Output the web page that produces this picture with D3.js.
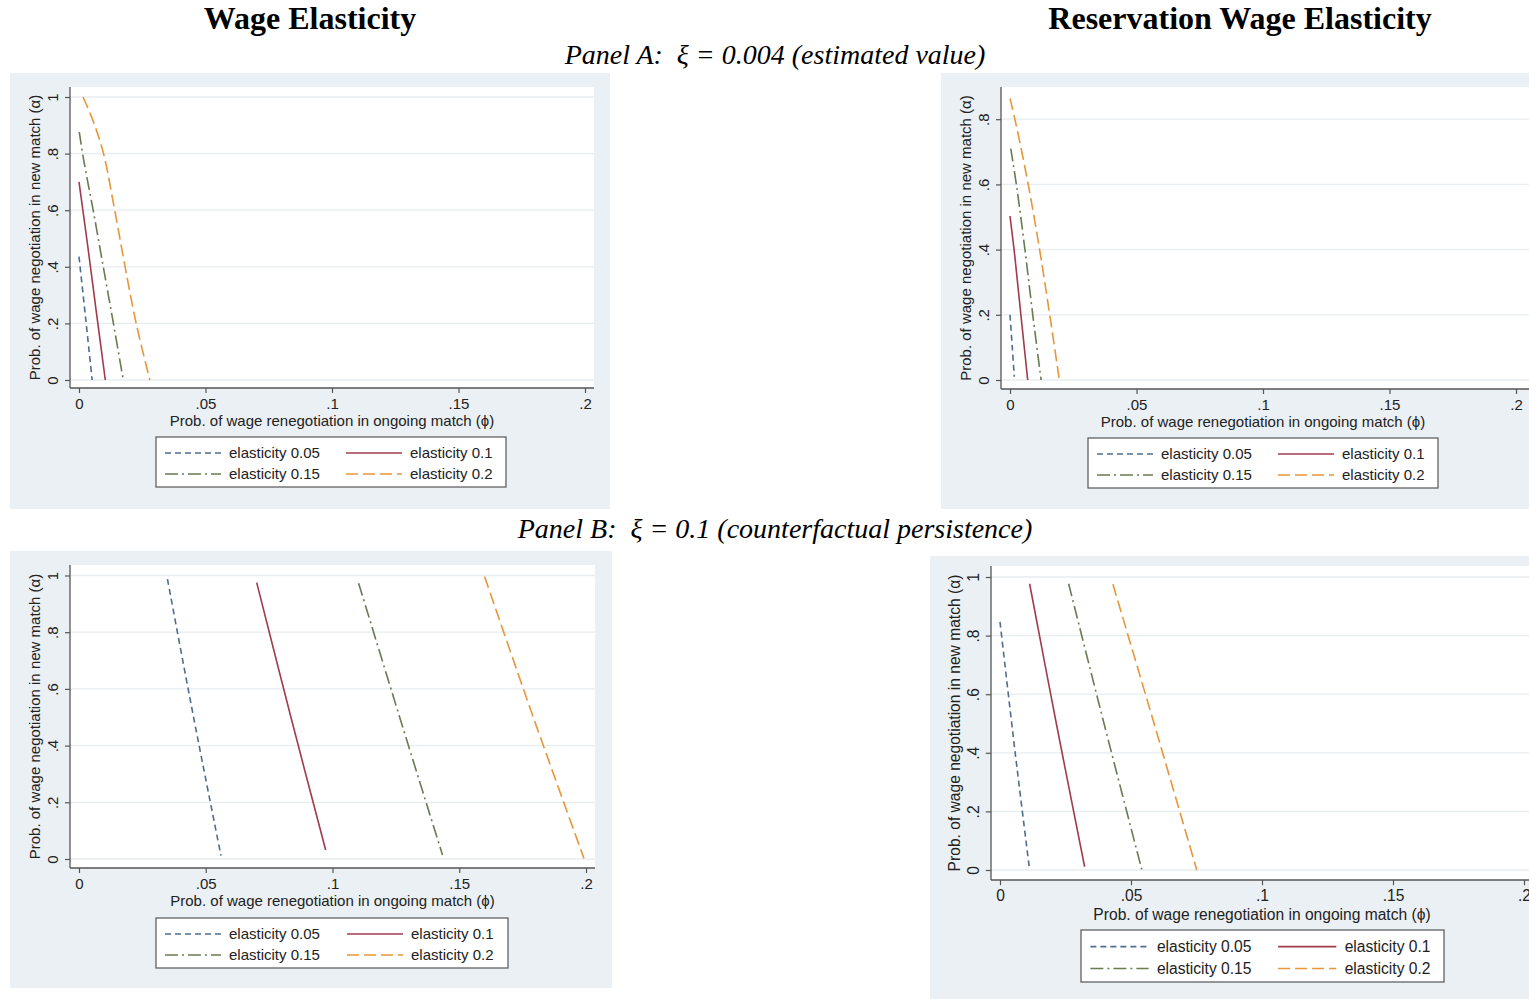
<!DOCTYPE html>
<html>
<head>
<meta charset="utf-8">
<script src="https://cdn.jsdelivr.net/npm/d3@7"></script>
<style>
  body { margin: 0; background: #fff; }
  svg { display: block; }
</style>
</head>
<body>
<svg id="fig" width="1529" height="999"></svg>
<script>
// elasticity labels and styles
var seriesLabels = ["elasticity 0.05", "elasticity 0.1", "elasticity 0.15", "elasticity 0.2"];
var xTicks = [0, 0.05, 0.1, 0.15, 0.2];
var xTickLabels = ["0", ".05", ".1", ".15", ".2"];
var yTicks = [0, 0.2, 0.4, 0.6, 0.8, 1];
var yTickLabels = ["0", ".2", ".4", ".6", ".8", "1"];

// Panel A, wage elasticity  [phi, alpha]
var aWage05 = [[0, 0.436], [0.0026, 0.22], [0.0052, 0]];
var aWage10 = [[0, 0.70], [0.0035, 0.47], [0.007, 0.23], [0.0104, 0]];
var aWage15 = [[0.0001, 0.877], [0.0018, 0.78], [0.0056, 0.6], [0.0096, 0.4], [0.0136, 0.2], [0.0175, 0]];
var aWage20 = [[0.0016, 1.0], [0.0056, 0.915], [0.0097, 0.8], [0.0137, 0.62], [0.0178, 0.42], [0.0226, 0.2], [0.028, 0]];

// Panel A, reservation wage elasticity
var aRes05 = [[0, 0.2], [0.0009, 0.1], [0.0017, 0.01]];
var aRes10 = [[0, 0.503], [0.0019, 0.38], [0.0043, 0.2], [0.007, 0]];
var aRes15 = [[0.0003, 0.71], [0.0027, 0.59], [0.0059, 0.4], [0.009, 0.2], [0.0123, 0]];
var aRes20 = [[0, 0.864], [0.0025, 0.78], [0.0072, 0.6], [0.0117, 0.4], [0.0157, 0.2], [0.0195, 0]];

// Panel B, wage elasticity
var bWage05 = [[0.0349, 0.987], [0.0452, 0.5], [0.056, 0.012]];
var bWage10 = [[0.0701, 0.975], [0.0836, 0.5], [0.0973, 0.032]];
var bWage15 = [[0.1103, 0.973], [0.1265, 0.5], [0.1434, 0.014]];
var bWage20 = [[0.16, 0.996], [0.1792, 0.5], [0.1992, 0.002]];

// Panel B, reservation wage elasticity
var bRes05 = [[0, 0.847], [0.0058, 0.4], [0.0113, 0]];
var bRes10 = [[0.0113, 0.977], [0.0215, 0.5], [0.0323, 0.011]];
var bRes15 = [[0.0262, 0.977], [0.0397, 0.5], [0.0541, 0.002]];
var bRes20 = [[0.0431, 0.975], [0.0588, 0.5], [0.0751, 0]];

var colors = ["#4f6d8f", "#a03c4b", "#6a7b52", "#e8963a"];
var dashes = ["6,4", null, "13,4,2,4", "12,5"];

var svg = d3.select("#fig");
var serif = "'Liberation Serif', 'Times New Roman', serif";
var sans = "'Liberation Sans', Arial, sans-serif";

// headings
svg.append("text").attr("x", 310).attr("y", 29).attr("text-anchor", "middle")
    .style("font-family", serif).style("font-weight", "bold").style("font-size", "32px")
    .text("Wage Elasticity");
svg.append("text").attr("x", 1240).attr("y", 29).attr("text-anchor", "middle")
    .style("font-family", serif).style("font-weight", "bold").style("font-size", "32px")
    .text("Reservation Wage Elasticity");
svg.append("text").attr("x", 775).attr("y", 64).attr("text-anchor", "middle")
    .style("font-family", serif).style("font-style", "italic").style("font-size", "28px")
    .text("Panel A:\u00A0 \u03BE = 0.004 (estimated value)");
svg.append("text").attr("x", 775).attr("y", 538).attr("text-anchor", "middle")
    .style("font-family", serif).style("font-style", "italic").style("font-size", "28px")
    .text("Panel B:\u00A0 \u03BE = 0.1 (counterfactual persistence)");

var panels = [
    {bg: [10, 73, 600, 436], axX: 70, axY: 388, top: 87, right: 594,
     xr: [79, 585], yr: [380, 97], yt: [0, 0.2, 0.4, 0.6, 0.8, 1], k: 1,
     legend: [156, 437, 350, 50], series: [aWage05, aWage10, aWage15, aWage20]},
    {bg: [941, 73, 588, 436], axX: 1001, axY: 389, top: 87, right: 1529,
     xr: [1010, 1516], yr: [380, 54], yt: [0, 0.2, 0.4, 0.6, 0.8], k: 1,
     legend: [1088, 438, 350, 50], series: [aRes05, aRes10, aRes15, aRes20]},
    {bg: [10, 551, 602, 437], axX: 70, axY: 868, top: 565, right: 595,
     xr: [79, 586], yr: [859, 575.5], yt: [0, 0.2, 0.4, 0.6, 0.8, 1], k: 1,
     legend: [156, 918, 352, 50], series: [bWage05, bWage10, bWage15, bWage20]},
    {bg: [930, 556, 599, 443], axX: 991, axY: 880, top: 566, right: 1529,
     xr: [1000, 1524], yr: [870, 577], yt: [0, 0.2, 0.4, 0.6, 0.8, 1], k: 1.04,
     legend: [1081, 930, 363, 52], series: [bRes05, bRes10, bRes15, bRes20]}
];

panels.forEach(function (p) {
    var g = svg.append("g");
    var k = p.k;
    var fs = (15 * k) + "px";
    g.append("rect").attr("x", p.bg[0]).attr("y", p.bg[1])
        .attr("width", p.bg[2]).attr("height", p.bg[3]).attr("fill", "#eaf0f3");
    g.append("rect").attr("x", p.axX).attr("y", p.top)
        .attr("width", p.right - p.axX).attr("height", p.axY - p.top).attr("fill", "#fff");

    var x = d3.scaleLinear().domain([0, 0.2]).range(p.xr);
    var y = d3.scaleLinear().domain([0, 1]).range(p.yr);

    // gridlines
    g.selectAll(".grid").data(p.yt).enter().append("line")
        .attr("x1", p.axX).attr("x2", p.right)
        .attr("y1", function (d) { return y(d); }).attr("y2", function (d) { return y(d); })
        .attr("stroke", "#e7edf0").attr("stroke-width", 1.3);

    // axes
    var xAxis = d3.axisBottom(x).tickValues(xTicks).tickSize(5 * k).tickPadding(5 * k)
        .tickFormat(function (d) { return xTickLabels[xTicks.indexOf(d)]; });
    var xg = g.append("g").attr("transform", "translate(0," + p.axY + ")").call(xAxis);
    xg.select(".domain").attr("d", "M" + p.axX + ",0H" + p.right);

    var yAxis = d3.axisLeft(y).tickValues(p.yt).tickSize(5 * k).tickPadding(3)
        .tickFormat(function (d) { return yTickLabels[yTicks.indexOf(d)]; });
    var yg = g.append("g").attr("transform", "translate(" + p.axX + ",0)").call(yAxis);
    yg.select(".domain").attr("d", "M0," + p.top + "V" + p.axY);
    yg.selectAll(".tick text")
        .attr("transform", "rotate(-90)")
        .attr("x", 0).attr("y", -12 * k).attr("dy", 0)
        .attr("text-anchor", "middle");

    [xg, yg].forEach(function (a) {
        a.select(".domain").attr("stroke", "#555").attr("stroke-width", 1.3);
        a.selectAll(".tick line").attr("stroke", "#555").attr("stroke-width", 1.2);
        a.selectAll(".tick text").style("font-family", sans).style("font-size", fs).attr("fill", "#222");
    });

    g.append("text").attr("x", x(0.1)).attr("y", p.axY + 38 * k)
        .attr("text-anchor", "middle").style("font-family", sans).style("font-size", fs).attr("fill", "#222")
        .text("Prob. of wage renegotiation in ongoing match (\u03D5)");
    g.append("text").attr("transform", "translate(" + (p.axX - 30 * k) + "," + ((p.top + p.axY) / 2) + ") rotate(-90)")
        .attr("text-anchor", "middle").style("font-family", sans).style("font-size", fs).attr("fill", "#222")
        .text("Prob. of wage negotiation in new match (\u03B1)");

    // curves
    var line = d3.line().x(function (d) { return x(d[0]); }).y(function (d) { return y(d[1]); })
        .curve(d3.curveCatmullRom.alpha(0.5));
    p.series.forEach(function (s, i) {
        g.append("path").datum(s).attr("d", line).attr("fill", "none")
            .attr("stroke", colors[i]).attr("stroke-width", 1.6)
            .attr("stroke-dasharray", dashes[i]);
    });

    // legend
    var L = p.legend;
    g.append("rect").attr("x", L[0]).attr("y", L[1]).attr("width", L[2]).attr("height", L[3])
        .attr("fill", "#fff").attr("stroke", "#555").attr("stroke-width", 1.2);
    var colW = L[2] / 2;
    seriesLabels.forEach(function (lab, i) {
        var cx = L[0] + 9 * k + (i % 2) * (colW + 6 * k);
        var cy = L[1] + 16 * k + Math.floor(i / 2) * 21 * k;
        g.append("line").attr("x1", cx).attr("x2", cx + 56 * k).attr("y1", cy).attr("y2", cy)
            .attr("stroke", colors[i]).attr("stroke-width", 1.6).attr("stroke-dasharray", dashes[i]);
        g.append("text").attr("x", cx + 64 * k).attr("y", cy + 5 * k)
            .style("font-family", sans).style("font-size", fs).attr("fill", "#222")
            .text(lab);
    });
});
</script>
</body>
</html>
